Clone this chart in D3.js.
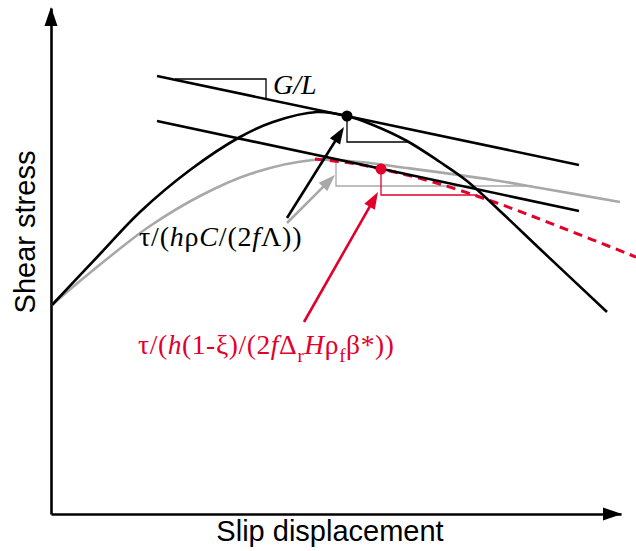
<!DOCTYPE html>
<html>
<head>
<meta charset="utf-8">
<script src="https://cdn.jsdelivr.net/npm/d3@7/dist/d3.min.js"></script>
<style>
  html, body { margin: 0; padding: 0; background: #fff; }
  svg { display: block; }
</style>
</head>
<body>
<div id="chart"></div>
<script>
// plot units: [slip, stress], origin at the axes corner
const peakCurve = [[1,209],[49,260],[89,302],[139,344],[189,377],[222,392],[266,402],[296,398],
    [322,389],[356,373],[389,352],[416,333],[449,303],[489,265],[556,202]];
const residualCurve = [[1,209],[29,233],[66,263],[99,288],[149,318],[199,340],[262,354],[309,352],
    [356,346],[442,334],[489,326],[569,312]];
const fluidCurve = [[264,355],[299,351],[330,345],[382,332],[446,311],[509,287],[585,257]];

const upperTangent = [[106,438],[528,349]];
const lowerTangent = [[106,393],[528,303]];

const slopeGL = [[124,435],[215,435],[215,415]];
const slopeBlack = [[296,398],[296,372],[359,372]];
const slopeGray = [[285,353],[285,328],[481,328]];
const slopeRed = [[330,345],[330,319],[426,319]];

const blackDot = [296,398];
const redDot = [330,345];

const blackArrow = [[236,296],[293,387]];
const grayArrow = [[236,291],[284,339]];
const redArrow = [[253,192],[327,322]];

const RED = "#e2002b", GRAY = "#a8a8a8", INK = "#000";

const W = 636, H = 551;
const x = d3.scaleLinear().domain([0, 570]).range([51, 621]);
const y = d3.scaleLinear().domain([0, 506]).range([514, 8]);

const svg = d3.select("#chart").append("svg").attr("width", W).attr("height", H);

const line = d3.line().x(d => x(d[0])).y(d => y(d[1]));
const smooth = d3.line().x(d => x(d[0])).y(d => y(d[1])).curve(d3.curveCatmullRom.alpha(0.5));

// axes (no ticks), arrowheads at the ends
const xAxis = svg.append("g").attr("transform", `translate(0,${y(0)})`)
    .call(d3.axisBottom(x).tickValues([]).tickSizeOuter(0));
const yAxis = svg.append("g").attr("transform", `translate(${x(0)},0)`)
    .call(d3.axisLeft(y).tickValues([]).tickSizeOuter(0));
[xAxis, yAxis].forEach(a => a.select(".domain").attr("stroke", INK).attr("stroke-width", 2.6));

function head(tx, ty, ang, len, half, color) {
    const c = Math.cos(ang), s = Math.sin(ang);
    const bx = tx - len * c, by = ty - len * s;
    svg.append("polygon")
        .attr("points", [[tx, ty], [bx - half * s, by + half * c], [bx + half * s, by - half * c]].join(" "))
        .attr("fill", color);
}
head(x(570) + 1, y(0), 0, 19, 6.5, INK);
head(x(0), y(506) - 1, -Math.PI / 2, 19, 6.5, INK);

// thin slope triangles
function tri(pts, color) {
    svg.append("path").attr("d", line(pts)).attr("fill", "none")
        .attr("stroke", color).attr("stroke-width", 1.3);
}
tri(slopeGL, INK);
tri(slopeGray, GRAY);
tri(slopeRed, RED);
tri(slopeBlack, INK);

// curves
svg.append("path").attr("d", smooth(residualCurve)).attr("fill", "none")
    .attr("stroke", GRAY).attr("stroke-width", 2.6);
svg.append("path").attr("d", smooth(fluidCurve)).attr("fill", "none")
    .attr("stroke", RED).attr("stroke-width", 3).attr("stroke-dasharray", "9,6");
svg.append("path").attr("d", smooth(peakCurve)).attr("fill", "none")
    .attr("stroke", INK).attr("stroke-width", 2.6);

// tangent lines
[upperTangent, lowerTangent].forEach(t => {
    svg.append("path").attr("d", line(t)).attr("fill", "none")
        .attr("stroke", INK).attr("stroke-width", 2.6);
});

// dots
svg.append("circle").attr("cx", x(blackDot[0])).attr("cy", y(blackDot[1])).attr("r", 5.5).attr("fill", INK);
svg.append("circle").attr("cx", x(redDot[0])).attr("cy", y(redDot[1])).attr("r", 5.5).attr("fill", RED);

// arrows
function arrow(pts, color) {
    const x0 = x(pts[0][0]), y0 = y(pts[0][1]), x1 = x(pts[1][0]), y1 = y(pts[1][1]);
    const ang = Math.atan2(y1 - y0, x1 - x0);
    const len = 17;
    svg.append("line")
        .attr("x1", x0).attr("y1", y0)
        .attr("x2", x1 - (len - 2) * Math.cos(ang)).attr("y2", y1 - (len - 2) * Math.sin(ang))
        .attr("stroke", color).attr("stroke-width", 2.6);
    head(x1, y1, ang, len, 6, color);
}
arrow(grayArrow, GRAY);
arrow(blackArrow, INK);
arrow(redArrow, RED);

// labels
const serif = "'Liberation Serif', 'Times New Roman', serif";
const sans = "'Liberation Sans', Arial, Helvetica, sans-serif";

function rich(tx, ty, size, color, parts, spacing) {
    const t = svg.append("text").attr("x", tx).attr("y", ty)
        .attr("font-family", serif).attr("font-size", size).attr("fill", color)
        .attr("letter-spacing", spacing || 0);
    parts.forEach(p => {
        const s = t.append("tspan").text(p.t);
        if (p.i) s.attr("font-style", "italic");
        if (p.dy) s.attr("dy", p.dy);
        if (p.fs) s.attr("font-size", p.fs);
    });
}

rich(273, 94, 28, INK, [{ t: "G/L", i: true }]);

rich(139, 246, 28, INK, [
    { t: "τ/(" }, { t: "h", i: true }, { t: "ρ" }, { t: "C", i: true }, { t: "/(2" },
    { t: "f", i: true }, { t: "Λ" }, { t: "))" }
], 0.8);

rich(138, 354, 27.5, RED, [
    { t: "τ/(" }, { t: "h", i: true }, { t: "(1-ξ)/(2" }, { t: "f", i: true }, { t: "Δ" },
    { t: "r", dy: 8, fs: 19 }, { t: "H", i: true, dy: -8 }, { t: "ρ" },
    { t: "f", dy: 8, fs: 19 }, { t: "β*))", dy: -8 }
], 0.6);

svg.append("text")
    .attr("transform", "translate(35,232) rotate(-90)")
    .attr("text-anchor", "middle")
    .attr("font-family", sans).attr("font-size", 29)
    .text("Shear stress");

svg.append("text")
    .attr("x", 330).attr("y", 541)
    .attr("text-anchor", "middle")
    .attr("font-family", sans).attr("font-size", 29)
    .text("Slip displacement");
</script>
</body>
</html>
